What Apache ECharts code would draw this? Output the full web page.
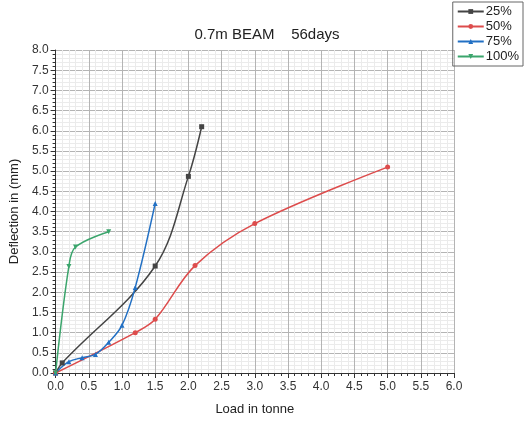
<!DOCTYPE html>
<html><head><meta charset="utf-8">
<script src="https://cdn.jsdelivr.net/npm/echarts@6/dist/echarts.min.js"></script>
<style>html,body{margin:0;padding:0;background:#fff}#c{width:524px;height:421px}</style>
</head><body><div id="c"></div>
<script>
var title = '0.7m BEAM    56days';
var seriesNames = ['25%', '50%', '75%', '100%'];
var s25 = [[0,0],[0.1,0.25],[1.5,2.65],[2.0,4.87],[2.2,6.1]];
var s50 = [[0,0],[1.2,1.0],[1.5,1.33],[2.1,2.66],[3.0,3.7],[5.0,5.1]];
var s75 = [[0,0],[0.2,0.28],[0.4,0.38],[0.6,0.46],[0.8,0.76],[1.0,1.18],[1.2,2.12],[1.5,4.2]];
var s100 = [[0,0],[0.2,2.64],[0.3,3.12],[0.8,3.5]];
var xLabel = 'Load in tonne';
var yLabel = 'Deflection in (mm)';

var colors = ['#444444', '#dd4c4c', '#2270c4', '#3ba56c'];
var symbols = ['rect', 'circle', 'triangle', 'triangle'];
var rot = [0, 0, 0, 180];
var datas = [s25, s50, s75, s100];
var font = 'Liberation Sans, Arial, sans-serif';

var chart = echarts.init(document.getElementById('c'));
chart.setOption({
  animation: false,
  title: {text: title, left: 262, top: 22, textAlign: 'center',
    textStyle: {fontFamily: font, fontSize: 15, fontWeight: 'normal', color: '#222'}},
  legend: {
    orient: 'vertical', right: 1, top: 2, padding: [3,4,3,4],
    borderColor: '#666', borderWidth: 1, itemGap: 2, itemWidth: 26, itemHeight: 6,
    textStyle: {fontFamily: font, fontSize: 13, color: '#222', padding: [0,0,0,-3]},
    data: seriesNames
  },
  grid: {left: 55, top: 50, width: 399, height: 323},
  xAxis: {
    type: 'value', min: 0, max: 6, interval: 0.5,
    name: xLabel, nameLocation: 'middle', nameGap: 30,
    nameTextStyle: {fontFamily: font, fontSize: 13, color: '#222'},
    axisLine: {show: true, lineStyle: {color: '#333'}},
    axisTick: {show: true, length: 5, lineStyle: {color: '#333'}},
    minorTick: {show: true, splitNumber: 5, length: 3, lineStyle: {color: '#333'}},
    axisLabel: {fontFamily: font, fontSize: 12, color: '#333', margin: 8,
      formatter: function(v){return v.toFixed(1);}},
    splitLine: {show: true, lineStyle: {color: '#b4b4b4', width: 1}},
    minorSplitLine: {show: true, lineStyle: {color: '#ebebeb', width: 1}}
  },
  yAxis: {
    type: 'value', min: 0, max: 8, interval: 0.5,
    name: yLabel, nameLocation: 'middle', nameGap: 33,
    nameTextStyle: {fontFamily: font, fontSize: 13, color: '#222'},
    axisLine: {show: true, lineStyle: {color: '#333'}},
    axisTick: {show: true, length: 5, lineStyle: {color: '#333'}},
    minorTick: {show: true, splitNumber: 5, length: 3, lineStyle: {color: '#333'}},
    axisLabel: {fontFamily: font, fontSize: 12, color: '#333', margin: 7,
      formatter: function(v){return v.toFixed(1);}},
    splitLine: {show: true, lineStyle: {color: '#b4b4b4', width: 1}},
    minorSplitLine: {show: true, lineStyle: {color: '#ebebeb', width: 1}}
  },
  series: seriesNames.map(function(n, i){
    return {
      name: n, type: 'line', data: datas[i], smooth: 0.35,
      symbol: symbols[i], symbolRotate: rot[i], symbolSize: 5,
      itemStyle: {color: colors[i]},
      lineStyle: {color: colors[i], width: 1.5}
    };
  })
});
</script></body></html>
